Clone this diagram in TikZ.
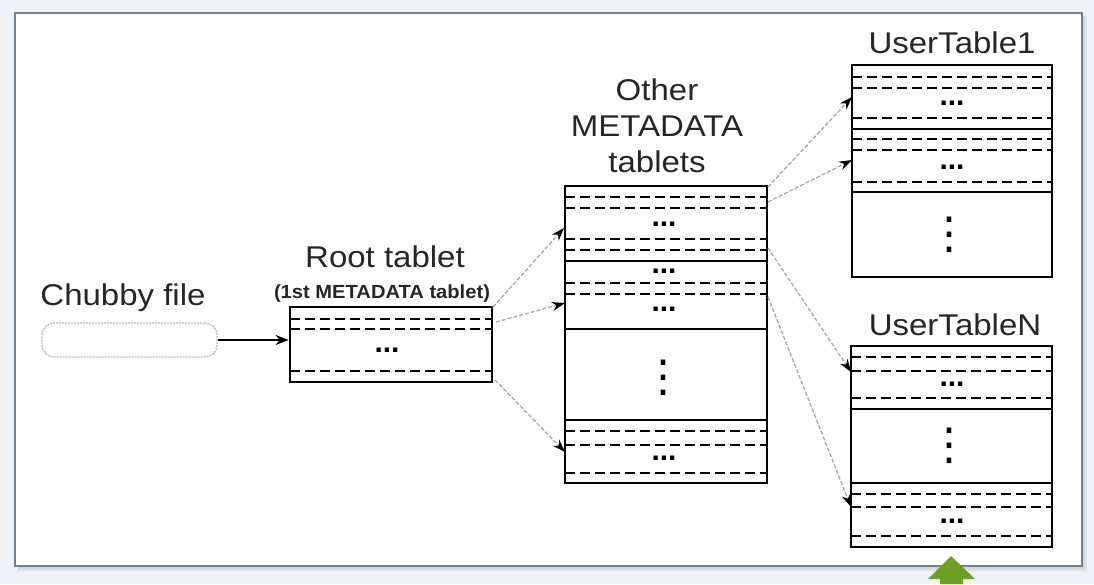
\documentclass[tikz,border=0pt]{standalone}
\usepackage{fontspec}
\setmainfont{Liberation Sans}
\newfontfamily\dotsfont{DejaVu Sans}
\usetikzlibrary{arrows.meta}
\definecolor{bgc}{HTML}{EEF3F7}
\definecolor{framec}{HTML}{6F8294}
\definecolor{arrowgreen}{HTML}{6AA121}
\definecolor{linkgray}{HTML}{A8A8A8}
\newcommand\wide[1]{\scalebox{1.1}[1]{#1}}
\newcommand\tallvdots{⋮}
\begin{document}
\begin{tikzpicture}[x=1pt,y=-1pt,
  tablebox/.style={draw=black, line width=2.8pt, fill=white, inner sep=0pt},
  rowdash/.style={draw=black, line width=2.5pt, dash pattern=on 10pt off 5pt},
  rowsolid/.style={draw=black, line width=2.8pt},
  title/.style={font=\fontsize{30}{36}\selectfont, text=black!85, anchor=base, inner sep=0pt},
  subtitle/.style={font=\fontsize{19}{22}\selectfont\bfseries, text=black!85, anchor=base, inner sep=0pt},
  hdotsnode/.style={font=\fontsize{30}{30}\selectfont\bfseries, inner sep=0pt},
  vdotsnode/.style={font=\dotsfont\fontsize{44}{44}\selectfont, inner sep=0pt},
  link/.style={draw=linkgray, line width=1.3pt, dash pattern=on 4pt off 2pt, -{Stealth[length=13pt,width=9pt,black]}},
  mainlink/.style={draw=black, line width=2.2pt, -{Stealth[length=13pt,width=10pt]}},
]
\useasboundingbox (0,0) rectangle (1094,584);
% background and frame
\fill[bgc] (0,0) rectangle (1094,584);
\fill[black, opacity=0.07] (18,16) rectangle (1087,571);
\fill[black, opacity=0.05] (17,15) rectangle (1085,569);
\draw[framec, line width=1.3pt, fill=white] (15,13) rectangle (1082,566);

% titles
\node[title] (tchubby) at (123,305) {\wide{Chubby file}};
\node[title] (troot) at (385,267) {\wide{Root tablet}};
\node[subtitle] (troot2) at (382,298) {\scalebox{1.06}[1]{(1st METADATA tablet)}};
\node[title, anchor=base] (tother) at (657,136) {\wide{\begin{tabular}{@{}c@{}}\fontsize{30}{36}\selectfont Other\\\fontsize{30}{36}\selectfont METADATA\\\fontsize{30}{36}\selectfont tablets\end{tabular}}};
\node[title] (tut1) at (952,53) {\wide{UserTable1}};
\node[title] (tutn) at (955,335) {\wide{UserTableN}};

% chubby file
\node[draw=gray!55, dash pattern=on 2pt off 1pt, line width=1.2pt, rounded corners=12pt,
      minimum width=175pt, minimum height=34pt, fill=white] (chubby) at (129.5,340) {};

% root tablet
\node[tablebox, minimum width=202pt, minimum height=75pt] (root) at (391,344.5) {};
\draw[rowdash] (290,319) -- (492,319);
\draw[rowdash] (290,329) -- (492,329);
\node[hdotsnode] (rdots) at (387,350) {...};
\draw[rowdash] (290,371) -- (492,371);

% other metadata tablets
\node[tablebox, minimum width=202pt, minimum height=297pt] (other) at (666,334.5) {};
\draw[rowdash] (565,197) -- (767,197);
\draw[rowdash] (565,208) -- (767,208);
\node[hdotsnode] (od1) at (664,224) {...};
\draw[rowdash] (565,239) -- (767,239);
\draw[rowdash] (565,250) -- (767,250);
\draw[rowsolid] (565,261) -- (767,261);
\node[hdotsnode] (od2) at (664,271) {...};
\draw[rowdash] (565,283) -- (767,283);
\draw[rowdash] (565,294) -- (767,294);
\node[hdotsnode] (od3) at (664,309) {...};
\draw[rowsolid] (565,329) -- (767,329);
\node[vdotsnode] (ov) at (663,378) {\tallvdots};
\draw[rowsolid] (565,420) -- (767,420);
\draw[rowdash] (565,431) -- (767,431);
\draw[rowdash] (565,445) -- (767,445);
\node[hdotsnode] (od4) at (664,458) {...};
\draw[rowdash] (565,473) -- (767,473);

% user table 1
\node[tablebox, minimum width=200pt, minimum height=212pt] (ut1) at (952,171) {};
\draw[rowdash] (852,77) -- (1052,77);
\draw[rowdash] (852,88) -- (1052,88);
\node[hdotsnode] (u1d1) at (952,103) {...};
\draw[rowdash] (852,118) -- (1052,118);
\draw[rowsolid] (852,129) -- (1052,129);
\draw[rowdash] (852,139) -- (1052,139);
\draw[rowdash] (852,150) -- (1052,150);
\node[hdotsnode] (u1d2) at (952,167) {...};
\draw[rowdash] (852,182) -- (1052,182);
\draw[rowsolid] (852,192) -- (1052,192);
\node[vdotsnode] (u1v) at (949,235) {\tallvdots};

% user table N
\node[tablebox, minimum width=201pt, minimum height=201pt] (utn) at (951.5,446.5) {};
\draw[rowdash] (851,357) -- (1052,357);
\draw[rowdash] (851,371) -- (1052,371);
\node[hdotsnode] (und1) at (952,384) {...};
\draw[rowdash] (851,398) -- (1052,398);
\draw[rowsolid] (851,409) -- (1052,409);
\node[vdotsnode] (unv) at (949,446) {\tallvdots};
\draw[rowsolid] (851,483) -- (1052,483);
\draw[rowdash] (851,494) -- (1052,494);
\draw[rowdash] (851,507) -- (1052,507);
\node[hdotsnode] (und2) at (952,521) {...};
\draw[rowdash] (851,536) -- (1052,536);

% connector end points
\coordinate (r1) at (493,307);
\coordinate (r2) at (496,322);
\coordinate (r3) at (495,380);
\coordinate (o1) at (564,228);
\coordinate (o2) at (565,303);
\coordinate (o3) at (565,452);
\coordinate (m1) at (768,187);
\coordinate (m2) at (768,202);
\coordinate (m3) at (768,248);
\coordinate (m4) at (768,297);
\coordinate (u1) at (852,97);
\coordinate (u2) at (852,160);
\coordinate (u3) at (851,372);
\coordinate (u4) at (851,507);

% connectors
\draw[mainlink] (chubby.east) -- (chubby.east -| root.west);
\draw[link] (r1) -- (o1);
\draw[link] (r2) -- (o2);
\draw[link] (r3) -- (o3);
\draw[link] (m1) -- (u1);
\draw[link] (m2) -- (u2);
\draw[link] (m3) -- (u3);
\draw[link] (m4) -- (u4);

% green arrow
\fill[arrowgreen] (951,556) -- (975,579) -- (963,579) -- (963,584) -- (940,584) -- (940,579) -- (928,579) -- cycle;
\end{tikzpicture}
\end{document}
